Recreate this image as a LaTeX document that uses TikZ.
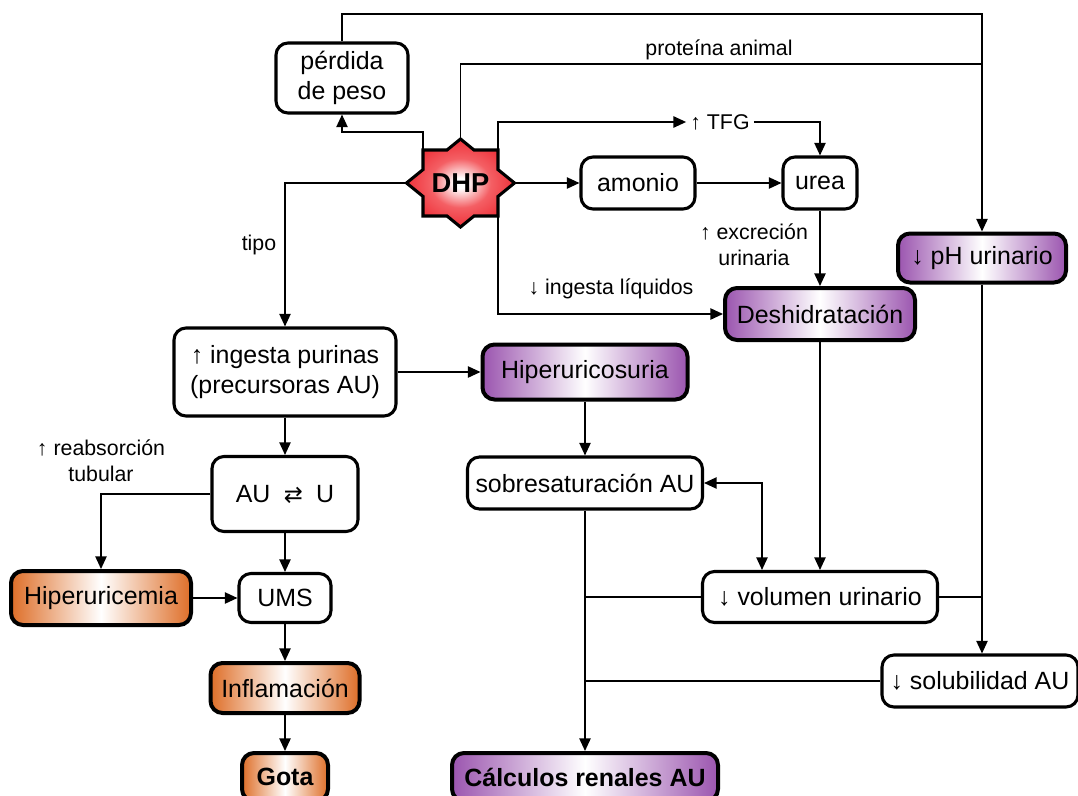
\documentclass[tikz,border=0pt]{standalone}
\usepackage{fontspec}
\setmainfont{Liberation Sans}
\newfontfamily\symfont{DejaVu Sans}
\usetikzlibrary{arrows.meta}
\definecolor{purp}{RGB}{155,85,175}
\definecolor{oran}{RGB}{222,110,40}
\definecolor{redst}{RGB}{236,30,40}
\definecolor{redmid}{RGB}{244,95,100}
\pgfdeclareradialshading{starshade}{\pgfpoint{0bp}{0bp}}{color(0bp)=(white); color(3bp)=(white); color(14bp)=(redmid); color(30bp)=(redst); color(50bp)=(redst)}
\begin{document}
\begin{tikzpicture}[x=0.75pt,y=-0.75pt,
  box/.style={draw, line width=2.3pt, rounded corners=9pt, fill=white, inner sep=0pt, align=center, font=\fontsize{18.7}{23}\selectfont},
  pbox/.style={box, line width=3pt, left color=purp, right color=purp, middle color=white},
  obox/.style={box, line width=3pt, left color=oran, right color=oran, middle color=white},
  lbl/.style={font=\fontsize{16}{19.5}\selectfont, align=center, inner sep=3pt},
  arr/.style={line width=1.1pt, -{Triangle[length=9.5pt,width=8.5pt]}},
  darr/.style={line width=1.1pt, {Triangle[length=9.5pt,width=8.5pt]}-{Triangle[length=9.5pt,width=8.5pt]}},
  ln/.style={line width=1.1pt},
]
\useasboundingbox (0,0) rectangle (1078,796);
\clip (0,0) rectangle (1078,796);

% star
\shadedraw[shading=starshade, draw=black, line width=2.3pt, line join=miter]
 (460.5,139) -- (474,150) -- (498,150) -- (498,169.6) -- (514.5,183) -- (498,196.4) -- (498,216) -- (474,216) -- (460.5,227) -- (447,216) -- (423,216) -- (423,196.4) -- (406.5,183) -- (423,169.6) -- (423,150) -- (447,150) -- cycle;
\coordinate (dhpT) at (460.5,139);
\coordinate (dhpR) at (514.5,183);
\coordinate (dhpL) at (406.5,183);
\coordinate (dhpTL) at (423,150);
\coordinate (dhpTR) at (498,150);
\coordinate (dhpBR) at (498,216);
\node[font=\bfseries\fontsize{20.5}{24}\selectfont] (DHP) at (460.5,183) {DHP};

% boxes
\node[box, minimum width=99pt, minimum height=52.5pt] (perdida) at (342,78) {pérdida\\de peso};
\node[box, minimum width=85.5pt, minimum height=39pt] (amonio) at (638,183) {amonio};
\node[box, minimum width=55.5pt, minimum height=39pt] (urea) at (820,183) {urea};
\node[pbox, minimum width=126pt, minimum height=36.75pt] (ph) at (982,258) {↓ pH urinario};
\node[pbox, minimum width=142.5pt, minimum height=39pt] (deshid) at (820,314) {Deshidratación};
\node[box, minimum width=166.5pt, minimum height=66pt] (ingesta) at (285,372) {↑ ingesta purinas\\(precursoras AU)};
\node[pbox, minimum width=153.75pt, minimum height=41.25pt] (hus) at (585,372) {Hiperuricosuria};
\node[box, minimum width=109.5pt, minimum height=56.25pt] (auu) at (285,494) {AU\hspace{10pt}{\symfont\fontsize{17}{17}\selectfont ⇄}\hspace{10pt}U};
\node[box, minimum width=176.25pt, minimum height=39pt] (sobres) at (585,483) {sobresaturación AU};
\node[obox, minimum width=135pt, minimum height=40.5pt] (hurem) at (101,598) {Hiperuricemia};
\node[box, minimum width=69pt, minimum height=36.75pt] (ums) at (285,598) {UMS};
\node[obox, minimum width=111.75pt, minimum height=37.5pt] (inflam) at (285,688) {Inflamación};
\node[obox, minimum width=64.5pt, minimum height=36pt, font=\bfseries\fontsize{18.7}{23}\selectfont] (gota) at (285,777) {Gota};
\node[box, minimum width=176.25pt, minimum height=38.25pt] (volumen) at (820,597) {↓ volumen urinario};
\node[box, minimum width=147pt, minimum height=39pt] (solub) at (980,681) {↓ solubilidad AU};
\node[pbox, minimum width=199.5pt, minimum height=36pt, font=\bfseries\fontsize{18.7}{23}\selectfont] (calc) at (585,777) {Cálculos renales AU};

% labels
\node[lbl] (prot) at (719,50) {proteína animal};
\node[lbl] (tfg) at (720,122) {↑ TFG};
\node[lbl] (excr) at (754,245) {↑ excreción\\urinaria};
\node[lbl] (liq) at (611,289) {↓ ingesta líquidos};
\node[lbl] (tipo) at (259,245) {tipo};
\node[lbl] (reab) at (101,461) {↑ reabsorción\\tubular};

% helper coordinates
\coordinate (topY) at (0,14);
\coordinate (protY) at (0,64);
\coordinate (v2) at (762,0);

% connectors
\draw[arr] (dhpTL) -- ++(0,-18) -| (perdida.south);
\draw[arr] (perdida.north) |- (ph.north |- topY) -- (ph.north);
\draw[ln] (dhpT) |- (ph.north |- protY);
\draw[arr] (dhpTR) |- (tfg.west);
\draw[arr] (tfg.east) -| (urea.north);
\draw[arr] (dhpR) -- (amonio.west);
\draw[arr] (amonio) -- (urea);
\draw[arr] (urea) -- (deshid);
\draw[arr] (dhpBR) |- (deshid.west);
\draw[arr] (dhpL) -| (ingesta.north);
\draw[arr] (ingesta) -- (hus);
\draw[arr] (ingesta) -- (auu);
\draw[arr] (auu.west) -| (hurem.north);
\draw[arr] (auu) -- (ums);
\draw[arr] (hurem) -- (ums);
\draw[arr] (ums) -- (inflam);
\draw[arr] (inflam) -- (gota);
\draw[arr] (hus) -- (sobres);
\draw[arr] (deshid) -- (volumen);
\draw[darr] (sobres.east) -| (volumen.north -| v2);
\draw[arr] (ph.south) -- (ph.south |- solub.north);
\draw[ln] (volumen.east) -- (volumen.east -| ph.south);
\draw[ln] (volumen.west) -- (volumen.west -| sobres.south);
\draw[ln] (solub.west) -- (solub.west -| sobres.south);
\draw[arr] (sobres) -- (calc);
\end{tikzpicture}
\end{document}
